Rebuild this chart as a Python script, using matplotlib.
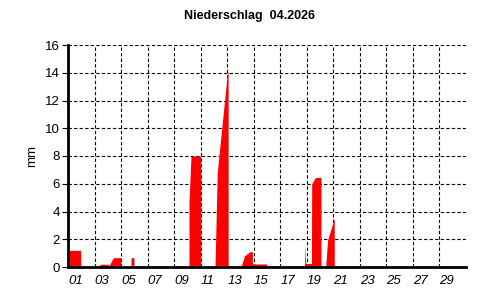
import matplotlib
matplotlib.use("Agg")
import matplotlib.pyplot as plt

plt.rcParams['font.family'] = ['Liberation Sans', 'DejaVu Sans']

# daily cumulative precipitation, time in days since 01.04. 00:00
t = [0.08, 0.08, 0.96, 0.96,
     2.41, 2.41, 3.04, 3.04,
     3.35, 3.45, 3.99, 3.99,
     4.75, 4.75, 4.97, 4.97,
     9.12, 9.12, 9.27, 10.0, 10.0,
     11.08, 11.25, 12.02, 12.07, 12.07,
     13.04, 13.3, 13.72, 13.9, 13.9, 14.97, 14.97,
     17.83, 17.86, 17.92, 18.35, 18.37, 18.65, 19.07, 19.07,
     19.42, 19.57, 20.07, 20.07]
mm = [0, 1.2, 1.2, 0,
      0, 0.2, 0.2, 0,
      0.55, 0.67, 0.67, 0,
      0, 0.67, 0.67, 0,
      0, 4.6, 8.0, 8.0, 0,
      0, 6.8, 14.05, 14.05, 0,
      0, 0.8, 1.1, 1.1, 0.22, 0.22, 0,
      0, 1.5, 0.25, 0.25, 6.0, 6.45, 6.45, 0,
      0, 1.95, 3.5, 0]

xticks = list(range(0, 30, 2))
xlabels = ['01', '03', '05', '07', '09', '11', '13', '15',
           '17', '19', '21', '23', '25', '27', '29']
yticks = list(range(0, 17, 2))

fig = plt.figure(figsize=(5, 3), dpi=100)
ax = fig.add_axes([0.136, 0.11, 0.796, 0.74])

ax.fill_between(t, mm, 0, color='#ff0000', linewidth=0, zorder=2)

ax.set_xlim(0, 30)
ax.set_ylim(0, 16)

# grid
for x in xticks[1:]:
    ax.plot([x, x], [0, 16], color='black', lw=0.8, ls=(0, (3, 2)), zorder=1)
for y in yticks[1:]:
    ax.plot([0, 30], [y, y], color='black', lw=0.8, ls=(0, (3, 2)), zorder=1)

ax.set_xticks(xticks)
ax.set_xticklabels(xlabels, fontsize=9.5, style='italic', ha='left')
ax.tick_params(axis='x', length=0, pad=6)
ax.set_yticks(yticks)
ax.set_yticklabels([str(v) for v in yticks], fontsize=9.5)
ax.tick_params(axis='y', length=4, width=0.8, pad=2)

for s in ['top', 'right']:
    ax.spines[s].set_visible(False)
for s in ['left', 'bottom']:
    ax.spines[s].set_linewidth(2)
    ax.spines[s].set_zorder(3)

ax.set_ylabel('mm', fontsize=9.5, labelpad=5)
fig.text(0.5, 0.945, 'Niederschlag  04.2026', ha='center', va='center',
         fontsize=9, fontweight='bold')

fig.savefig('out.png', dpi=100)
